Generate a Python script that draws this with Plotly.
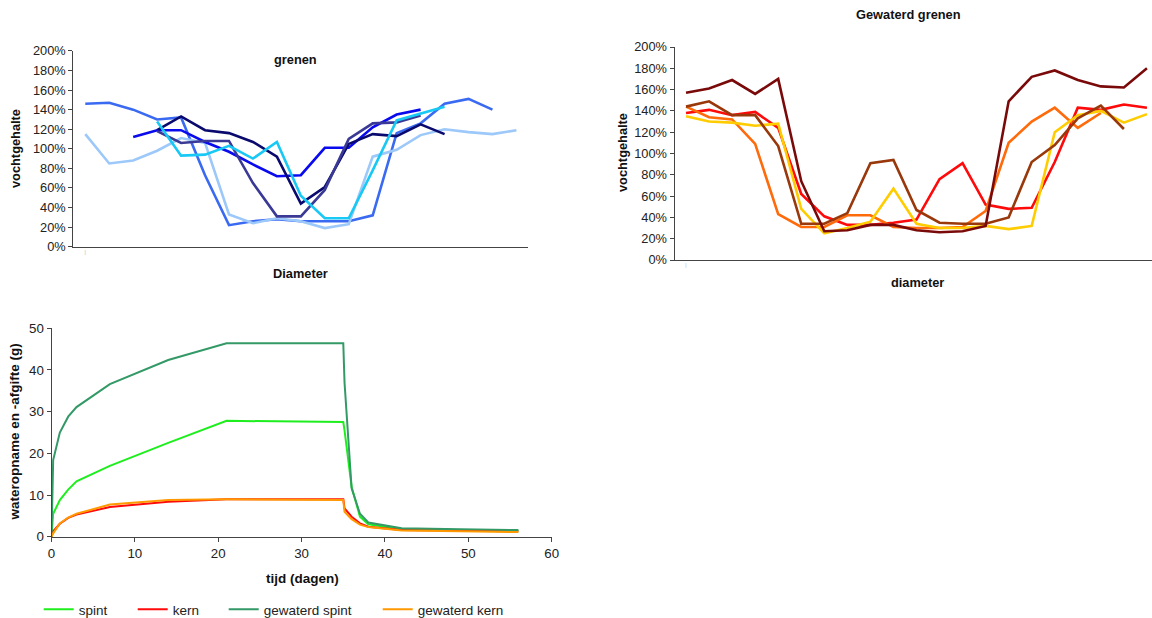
import plotly.graph_objects as go

W, H = 1152, 618
FONT = "Liberation Sans, Arial, sans-serif"

# ---------------- data: grenen (top left) ----------------
grenen_x = list(range(19))
grenen_1 = [146, 147, 140, 130, 132, 73, 22, 26, 28, 26, 26, 26, 32, 116, 126, 146, 151, 140, None]
grenen_2 = [115, 85, 88, 98, 111, 106, 33, 24, 29, 26, 19, 23, 92, 99, 114, 120, 117, 115, 119]
grenen_3 = [None, None, 112, 119, 119, 107, 97, 84, 72, 73, 101, 101, 122, 135, 140, None, None, None, None]
grenen_4 = [None, None, None, 119, 133, 119, 116, 107, 92, 44, 61, 105, 115, 113, 125, 115, None, None, None]
grenen_5 = [None, None, None, 118, 106, 108, 108, 65, 31, 31, 58, 110, 126, 127, 134, None, None, None, None]
grenen_6 = [None, None, None, 128, 93, 94, 103, 90, 107, 52, 29, 29, 78, 129, 136, 143, None, None, None]
grenen_colors = ["#3A6AF2", "#9CC8FA", "#0A0AEE", "#0A0A6E", "#3A3A96", "#18C8F5"]

# ---------------- data: gewaterd grenen (top right) ----------------
gew_x = list(range(21))
gew_red = [138, 141, 136, 139, 124, 62, 41, 33, 33, 35, 38, 76, 91, 52, 48, 49, 92, 143, 141, 146, 143]
gew_orange = [144, 134, 132, 109, 43, 31, 31, 42, 42, 31, 30, 30, 31, 46, 110, 130, 143, 124, 138, None, None]
gew_gold = [135, 130, 129, 126, 128, 48, 25, 30, 36, 67, 34, 30, 30, 32, 29, 32, 120, 136, 140, 129, 137]
gew_brown = [144, 149, 136, 136, 107, 34, 34, 44, 91, 94, 47, 35, 34, 34, 40, 92, 108, 133, 145, 123, None]
gew_maroon = [157, 161, 169, 156, 170, 74, 27, 28, 33, 33, 28, 26, 27, 32, 149, 172, 178, 169, 163, 162, 180]
gew_colors = ["#FF0A0A", "#FF6A0A", "#FFCC00", "#99380A", "#7A0A0A"]

pct_ticks = [0, 20, 40, 60, 80, 100, 120, 140, 160, 180, 200]
pct_labels = [f"{v}%" for v in pct_ticks]

# ---------------- data: water uptake (bottom) ----------------
tijd = [0, 0.2, 1, 2, 3, 7, 14, 21, 35, 35.15, 36, 37, 38, 42, 49, 56]
spint = [0, 5.5, 8.8, 11.3, 13.3, 17.0, 22.5, 27.8, 27.5, 25.5, 12.0, 4.8, 3.0, 1.85, 1.6, 1.4]
kern = [0, 1.3, 3.1, 4.5, 5.3, 7.1, 8.4, 9.0, 9.0, 6.8, 4.8, 3.2, 2.4, 1.6, 1.5, 1.3]
gewaterd_spint = [0, 18.4, 25.0, 28.8, 31.1, 36.6, 42.4, 46.4, 46.4, 37.0, 11.6, 5.5, 3.4, 2.0, 1.8, 1.6]
gewaterd_kern = [0, 0.8, 3.2, 4.6, 5.5, 7.7, 8.8, 9.0, 8.8, 6.0, 4.2, 2.9, 2.3, 1.5, 1.3, 1.1]
bottom_names = ["spint", "kern", "gewaterd spint", "gewaterd kern"]
bottom_colors = ["#1EEE1E", "#FF0A0A", "#339966", "#FF9900"]

fig = go.Figure()

for ys, c in zip([grenen_1, grenen_2, grenen_3, grenen_4, grenen_5, grenen_6], grenen_colors):
    fig.add_trace(go.Scatter(x=grenen_x, y=ys, mode="lines", line=dict(color=c, width=2.6),
                             xaxis="x", yaxis="y", showlegend=False, hoverinfo="skip"))

for ys, c in zip([gew_red, gew_orange, gew_gold, gew_brown, gew_maroon], gew_colors):
    fig.add_trace(go.Scatter(x=gew_x, y=ys, mode="lines", line=dict(color=c, width=2.6),
                             xaxis="x2", yaxis="y2", showlegend=False, hoverinfo="skip"))

legend_ids = ["legend", "legend2", "legend3", "legend4"]
for ys, name, c, lg in zip([spint, kern, gewaterd_spint, gewaterd_kern], bottom_names, bottom_colors, legend_ids):
    fig.add_trace(go.Scatter(x=tijd, y=ys, mode="lines", name=name, line=dict(color=c, width=2),
                             xaxis="x3", yaxis="y3", legend=lg, hoverinfo="skip"))


def px_x(p):
    return min(1.0, max(0.0, p / W))


def px_y(p):
    return min(1.0, max(0.0, 1 - p / H))


axis_line = "#444444"
tickfont = dict(family=FONT, size=12.8, color="#222222")
small_tick = dict(family=FONT, size=5, color="#B0B0B0")

layout = dict(
    width=W, height=H,
    margin=dict(l=0, r=0, t=0, b=0, pad=0, autoexpand=False),
    paper_bgcolor="white", plot_bgcolor="white",
    font=dict(family=FONT, color="#111111"),
    # top-left
    xaxis=dict(domain=[px_x(73.3), px_x(528.4)], range=[-0.5, 18.5], showgrid=False, zeroline=False,
               showline=True, linecolor=axis_line, linewidth=1, ticks="", tickmode="array",
               tickvals=[0], ticktext=["|"], tickfont=small_tick, anchor="y"),
    yaxis=dict(domain=[px_y(246.7), px_y(50.9)], range=[0, 200], showgrid=False, zeroline=False,
               showline=True, linecolor=axis_line, linewidth=1, ticks="outside", ticklen=4,
               tickcolor=axis_line, tickmode="array", tickvals=pct_ticks, ticktext=pct_labels,
               tickfont=tickfont, anchor="x"),
    # top-right
    xaxis2=dict(domain=[px_x(674.5), 1.0], range=[-0.5, 20.22], showgrid=False, zeroline=False,
                showline=True, linecolor=axis_line, linewidth=1, ticks="", tickmode="array",
                tickvals=[0], ticktext=["|"], tickfont=small_tick, anchor="y2"),
    yaxis2=dict(domain=[px_y(260), px_y(47)], range=[0, 200], showgrid=False, zeroline=False,
                showline=True, linecolor=axis_line, linewidth=1, ticks="outside", ticklen=4,
                tickcolor=axis_line, tickmode="array", tickvals=pct_ticks, ticktext=pct_labels,
                tickfont=tickfont, anchor="x2"),
    # bottom
    xaxis3=dict(domain=[px_x(51.5), px_x(551.7)], range=[0, 60], showgrid=False, zeroline=False,
                showline=True, linecolor=axis_line, linewidth=1, ticks="outside", ticklen=4,
                tickcolor=axis_line, dtick=10, tickfont=dict(family=FONT, size=13.3, color="#222222"),
                anchor="y3"),
    yaxis3=dict(domain=[px_y(536.7), px_y(328.3)], range=[0, 50], showgrid=False, zeroline=False,
                showline=True, linecolor=axis_line, linewidth=1, ticks="outside", ticklen=4,
                tickcolor=axis_line, dtick=10, tickfont=dict(family=FONT, size=13.3, color="#222222"),
                anchor="x3"),
)

text_starts = [81.7, 175.7, 266.7, 420.7]
for lg, xs in zip(legend_ids, text_starts):
    layout[lg] = dict(x=px_x(xs - 43), y=px_y(609.5), xanchor="left", yanchor="middle",
                      orientation="h", bgcolor="rgba(0,0,0,0)", borderwidth=0,
                      font=dict(family=FONT, size=13.5, color="#222222"), itemwidth=30)

fig.update_layout(**layout)


def label(text, x, y, size=13, bold=True, angle=0):
    fig.add_annotation(text=f"<b>{text}</b>" if bold else text, x=px_x(x), y=px_y(y),
                       xref="paper", yref="paper", xanchor="center", yanchor="middle",
                       showarrow=False, textangle=angle,
                       font=dict(family=FONT, size=size, color="#111111"))


label("grenen", 295, 59, 12.8)
label("Diameter", 300, 274, 12.8)
label("vochtgehalte", 16, 149, 12.8, angle=-90)
label("Gewaterd grenen", 908, 15, 12.8)
label("diameter", 917, 283, 12.8)
label("vochtgehalte", 622, 153, 12.8, angle=-90)
label("tijd (dagen)", 302, 578, 13.5)
label("wateropname en -afgifte (g)", 13.5, 432, 13.5, angle=-90)

fig.write_html("out.html")
